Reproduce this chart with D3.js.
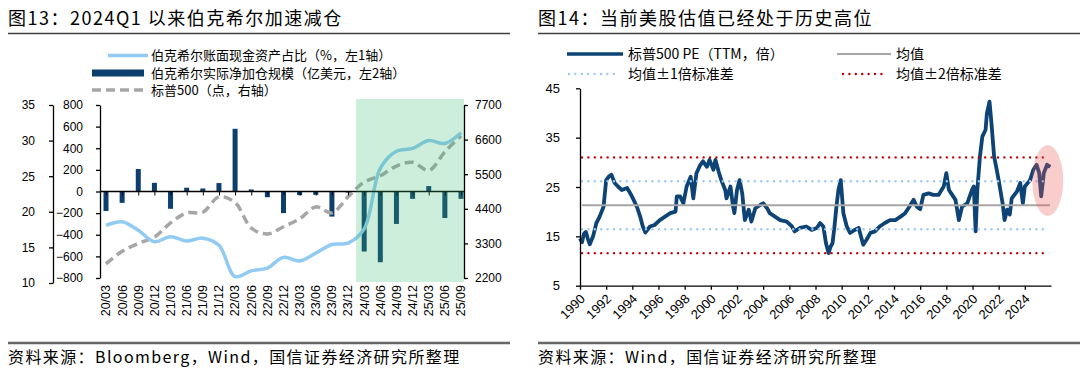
<!DOCTYPE html>
<html lang="zh">
<head>
<meta charset="utf-8">
<title>伯克希尔减仓与美股估值</title>
<script src="https://cdn.jsdelivr.net/npm/d3@7/dist/d3.min.js"></script>
<style>
  body { margin: 0; background: #fff; }
  svg text { font-family: "Noto Sans CJK SC", sans-serif; fill: #000; }
  .num text, text.num { font-family: "Liberation Sans", Arial, sans-serif; }
</style>
</head>
<body>
<svg width="1080" height="375"></svg>
<script>
// ---- 图13 数据 ----
const quarters = ["20/03","20/06","20/09","20/12","21/03","21/06","21/09","21/12",
                  "22/03","22/06","22/09","22/12","23/03","23/06","23/09","23/12",
                  "24/03","24/06","24/09","24/12","25/03","25/06","25/09"];
const cashRatio = [18.1, 18.6, 17.4, 15.8, 16.5, 15.9, 16.3, 15.3,
                   10.9, 11.7, 12.1, 13.6, 13.1, 14.2, 15.4, 15.6,
                   17.6, 26.1, 28.5, 28.9, 30.0, 29.6, 31.1];
const netBuy = [-180, -105, 208, 80, -160, 35, 28, 78,
                580, 19, -53, -200, -34, -31, -232, -10,
                -555, -654, -300, -68, 50, -245, -68];
const spx = [2650, 3050, 3300, 3500, 3950, 4270, 4290, 4780,
             4600, 3790, 3600, 3830, 4080, 4460, 4270, 4780,
             5250, 5450, 5760, 5880, 5620, 6210, 6720];
const cashTicks = [10, 15, 20, 25, 30, 35];
const barTicks = [-800, -600, -400, -200, 0, 200, 400, 600, 800];
const spxTicks = [2200, 3300, 4400, 5500, 6600, 7700];

// ---- 图14 数据 ----
const peDates = [1990.0,1990.15,1990.3,1990.45,1990.6,1990.75,1991.0,1991.25,1991.5,1991.8,
  1992.0,1992.2,1992.4,1992.65,1992.9,1993.2,1993.6,1993.85,1994.1,1994.35,
  1994.6,1994.8,1995.0,1995.35,1995.7,1996.1,1996.5,1996.9,1997.3,1997.4,
  1997.65,1997.9,1998.15,1998.46,1998.66,1998.9,1999.2,1999.4,1999.7,1999.9,
  2000.2,2000.35,2000.6,2000.8,2001.1,2001.2,2001.5,2001.7,2001.8,2002.0,
  2002.2,2002.4,2002.6,2002.9,2003.1,2003.4,2003.8,2004.0,2004.3,2004.5,
  2004.9,2005.3,2005.8,2006.2,2006.4,2006.8,2007.3,2007.7,2008.1,2008.35,
  2008.6,2008.8,2009.0,2009.15,2009.3,2009.45,2009.6,2009.75,2009.93,2010.13,
  2010.39,2010.64,2011.0,2011.3,2011.65,2011.9,2012.2,2012.55,2012.9,2013.3,
  2013.7,2014.1,2014.5,2014.85,2015.1,2015.5,2015.75,2016.0,2016.25,2016.65,
  2017.0,2017.4,2017.8,2018.0,2018.2,2018.45,2018.7,2018.96,2019.2,2019.6,
  2019.96,2020.1,2020.24,2020.37,2020.57,2020.75,2021.0,2021.1,2021.3,2021.45,
  2021.65,2021.85,2022.0,2022.3,2022.45,2022.65,2022.85,2023.0,2023.4,2023.65,
  2023.85,2024.0,2024.4,2024.65,2024.9,2025.1,2025.25,2025.45,2025.7,2025.95];
const peValues = [14.6,13.8,15.5,15.9,14.5,13.4,15.0,17.7,19.0,21.0,
  26.4,27.1,27.5,25.8,25.1,24.4,24.8,23.7,22.4,21.0,
  19.0,17.0,15.8,17.0,17.3,18.3,19.0,19.7,20.0,23.1,
  23.1,21.7,25.1,27.1,22.7,27.8,29.5,30.2,29.1,30.5,
  28.5,30.5,28.1,26.4,24.4,22.7,25.1,21.0,19.7,24.4,
  26.4,23.7,18.3,20.4,18.0,20.7,21.4,21.7,20.7,19.7,
  19.0,18.3,18.0,17.0,16.0,16.7,17.0,16.3,16.7,17.7,
  17.0,13.6,11.6,12.9,13.6,17.0,21.0,24.4,26.4,19.7,
  17.0,15.7,16.3,16.7,13.3,14.3,15.7,16.0,17.0,17.7,
  18.3,18.3,19.0,19.7,20.7,22.4,21.0,20.5,23.4,23.7,
  23.4,23.4,25.1,27.8,24.4,23.4,22.4,18.3,21.0,21.7,
  24.4,25.1,16.0,24.4,31.2,35.2,36.6,39.9,42.3,37.9,
  31.2,28.5,26.4,21.7,18.3,20.4,19.4,22.7,24.1,25.8,
  21.7,25.1,26.4,28.5,29.5,27.8,23.1,27.8,29.5,29.1];
const peMean = 21.3;
const peStd = 4.85;
const peTicks = [5, 15, 25, 35, 45];
const yearTicks = d3.range(1990, 2025, 2);

const svg = d3.select("svg");

// ---- 标题、分隔线、来源 ----
const titles = [
  {x: 8, x2: 510, t: "图13：2024Q1 以来伯克希尔加速减仓", s: "资料来源：Bloomberg，Wind，国信证券经济研究所整理"},
  {x: 538, x2: 1080, t: "图14：当前美股估值已经处于历史高位", s: "资料来源：Wind，国信证券经济研究所整理"}
];
titles.forEach(function (p) {
  svg.append("text").attr("x", p.x).attr("y", 25)
     .style("font-size", "18px").style("letter-spacing", "1.5px").text(p.t);
  svg.append("line").attr("x1", p.x).attr("x2", p.x2).attr("y1", 33.5).attr("y2", 33.5)
     .attr("stroke", "#404040").attr("stroke-width", 1.3);
  svg.append("line").attr("x1", p.x).attr("x2", p.x2).attr("y1", 343).attr("y2", 343)
     .attr("stroke", "#666").attr("stroke-width", 2.5);
  svg.append("text").attr("x", p.x).attr("y", 363)
     .style("font-size", "16px").style("letter-spacing", "1.4px").text(p.s);
});

// ================= 图13 =================
const x = d3.scalePoint().domain(quarters).range([106, 461]);
const yCash = d3.scaleLinear().domain([10, 35]).range([283, 105]);
const yBar = d3.scaleLinear().domain([-800, 800]).range([278, 105]);
const ySpx = d3.scaleLinear().domain([2200, 7700]).range([278, 105]);

const gL = svg.append("g");

gL.append("g").selectAll("rect").data(netBuy).enter().append("rect")
  .attr("x", function (d, i) { return x(quarters[i]) - 2.5; })
  .attr("width", 5)
  .attr("y", function (d) { return yBar(Math.max(0, d)); })
  .attr("height", function (d) { return Math.abs(yBar(d) - yBar(0)); })
  .attr("fill", "#0c3e6e");

gL.append("path").datum(spx)
  .attr("fill", "none").attr("stroke", "#a6a6a6").attr("stroke-width", 3.5)
  .attr("stroke-dasharray", "9,5")
  .attr("d", d3.line().x(function (d, i) { return x(quarters[i]); }).y(function (d) { return ySpx(d); })
            .curve(d3.curveCatmullRom.alpha(0.5)));

gL.append("path").datum(cashRatio)
  .attr("fill", "none").attr("stroke", "#92cbf2").attr("stroke-width", 3.5)
  .attr("d", d3.line().x(function (d, i) { return x(quarters[i]); }).y(function (d) { return yCash(d); })
            .curve(d3.curveCatmullRom.alpha(0.5)));

// 零轴
gL.append("line").attr("x1", 100).attr("x2", 464).attr("y1", yBar(0)).attr("y2", yBar(0))
  .attr("stroke", "#000").attr("stroke-width", 1.3);
const xAx = gL.append("g").attr("transform", "translate(0," + yBar(0) + ")")
  .call(d3.axisBottom(x).tickSize(4).tickFormat(""));
xAx.select(".domain").remove();

// 区间阴影
gL.append("rect")
  .attr("x", (x("23/12") + x("24/03")) / 2).attr("width", 464 - (x("23/12") + x("24/03")) / 2)
  .attr("y", 99).attr("height", 183)
  .attr("fill", "rgb(55,188,112)").attr("opacity", 0.25);

// 坐标轴
function styleAxis(g, size) {
  g.attr("class", "num");
  g.selectAll("path, line").attr("stroke", "#000").attr("stroke-width", 1.3);
  g.selectAll("text").style("font-size", size).attr("fill", "#000");
}
gL.append("g").attr("transform", "translate(53,0)")
  .call(d3.axisLeft(yCash).tickValues(cashTicks).tickSize(4).tickSizeOuter(0).tickPadding(14))
  .call(styleAxis, "12px");
gL.append("g").attr("transform", "translate(100,0)")
  .call(d3.axisLeft(yBar).tickValues(barTicks).tickSize(4).tickSizeOuter(0).tickPadding(13))
  .call(styleAxis, "12px");
gL.append("g").attr("transform", "translate(464,0)")
  .call(d3.axisRight(ySpx).tickValues(spxTicks).tickSize(4).tickSizeOuter(0).tickPadding(7)
          .tickFormat(d3.format("d")))
  .call(styleAxis, "12px");

// 横轴标签
gL.append("g").selectAll("text").data(quarters).enter().append("text")
  .attr("class", "num")
  .attr("transform", function (d) { return "translate(" + x(d) + ",285) rotate(-90)"; })
  .attr("text-anchor", "end").attr("dy", "0.35em")
  .style("font-size", "12.5px").text(function (d) { return d; });

// 图例
gL.append("line").attr("x1", 108).attr("x2", 148).attr("y1", 55.5).attr("y2", 55.5)
  .attr("stroke", "#92cbf2").attr("stroke-width", 3.5);
gL.append("rect").attr("x", 92).attr("y", 69.5).attr("width", 52).attr("height", 7).attr("fill", "#0c3e6e");
gL.append("line").attr("x1", 92).attr("x2", 144).attr("y1", 90).attr("y2", 90)
  .attr("stroke", "#a6a6a6").attr("stroke-width", 3.5).attr("stroke-dasharray", "9,5");
[["伯克希尔账面现金资产占比（%，左1轴）", 55.5],
 ["伯克希尔实际净加仓规模（亿美元，左2轴）", 73],
 ["标普500（点，右轴）", 90]].forEach(function (l) {
  gL.append("text").attr("x", 151).attr("y", l[1]).attr("dy", "0.35em")
    .style("font-size", "13px").text(l[0]);
});

// ================= 图14 =================
const xYear = d3.scaleLinear().domain([1990, 2026]).range([580, 1051]);
const yPe = d3.scaleLinear().domain([5, 45]).range([285.7, 88.3]);
const gR = svg.append("g");

gR.append("path").datum(peValues)
  .attr("fill", "none").attr("stroke", "#0d4375").attr("stroke-width", 3.8)
  .attr("stroke-linejoin", "round")
  .attr("d", d3.line().x(function (d, i) { return xYear(peDates[i]); }).y(function (d) { return yPe(d); }));

const refs = [
  {v: peMean + 2 * peStd, c: "#c00000", dot: true},
  {v: peMean - 2 * peStd, c: "#c00000", dot: true},
  {v: peMean + peStd, c: "#9dc8f0", dot: true},
  {v: peMean - peStd, c: "#9dc8f0", dot: true},
  {v: peMean, c: "#a6a6a6", dot: false}
];
refs.forEach(function (r) {
  const ln = gR.append("line").attr("x1", 582).attr("x2", r.dot ? 1047 : 1050)
    .attr("y1", yPe(r.v)).attr("y2", yPe(r.v)).attr("stroke", r.c);
  if (r.dot) ln.attr("stroke-width", 2.4).attr("stroke-linecap", "round").attr("stroke-dasharray", "0,6.4");
  else ln.attr("stroke-width", 2.2);
});

gR.append("ellipse").attr("cx", 1047.7).attr("cy", 180.5).attr("rx", 15.5).attr("ry", 35.5)
  .attr("fill", "rgb(238,88,88)").attr("opacity", 0.3);

gR.append("g").attr("transform", "translate(580,0)")
  .call(d3.axisLeft(yPe).tickValues(peTicks).tickSize(4).tickSizeOuter(0).tickPadding(16))
  .call(styleAxis, "13px");
const xR = gR.append("g").attr("transform", "translate(0," + yPe(5) + ")")
  .call(d3.axisBottom(xYear).tickValues(yearTicks).tickSize(4).tickSizeOuter(0).tickFormat(d3.format("d")))
  .call(styleAxis, "13px");
xR.selectAll("text").attr("x", -6).attr("y", 9).attr("dy", "0.35em")
  .attr("transform", "rotate(-45)").attr("text-anchor", "end");

// 图例
gR.append("line").attr("x1", 567).attr("x2", 623).attr("y1", 54).attr("y2", 54)
  .attr("stroke", "#0d4375").attr("stroke-width", 3.5);
gR.append("line").attr("x1", 837).attr("x2", 891).attr("y1", 54).attr("y2", 54)
  .attr("stroke", "#a6a6a6").attr("stroke-width", 2.2);
gR.append("line").attr("x1", 569).attr("x2", 618).attr("y1", 74).attr("y2", 74)
  .attr("stroke", "#9dc8f0").attr("stroke-width", 2.4).attr("stroke-linecap", "round").attr("stroke-dasharray", "0,6.4");
gR.append("line").attr("x1", 843).attr("x2", 884).attr("y1", 74).attr("y2", 74)
  .attr("stroke", "#c00000").attr("stroke-width", 2.4).attr("stroke-linecap", "round").attr("stroke-dasharray", "0,6.4");
[["标普500 PE（TTM，倍）", 628, 54], ["均值", 896, 54],
 ["均值±1倍标准差", 628, 74], ["均值±2倍标准差", 896, 74]].forEach(function (l) {
  gR.append("text").attr("x", l[1]).attr("y", l[2]).attr("dy", "0.35em")
    .style("font-size", "14px").text(l[0]);
});
</script>
</body>
</html>
